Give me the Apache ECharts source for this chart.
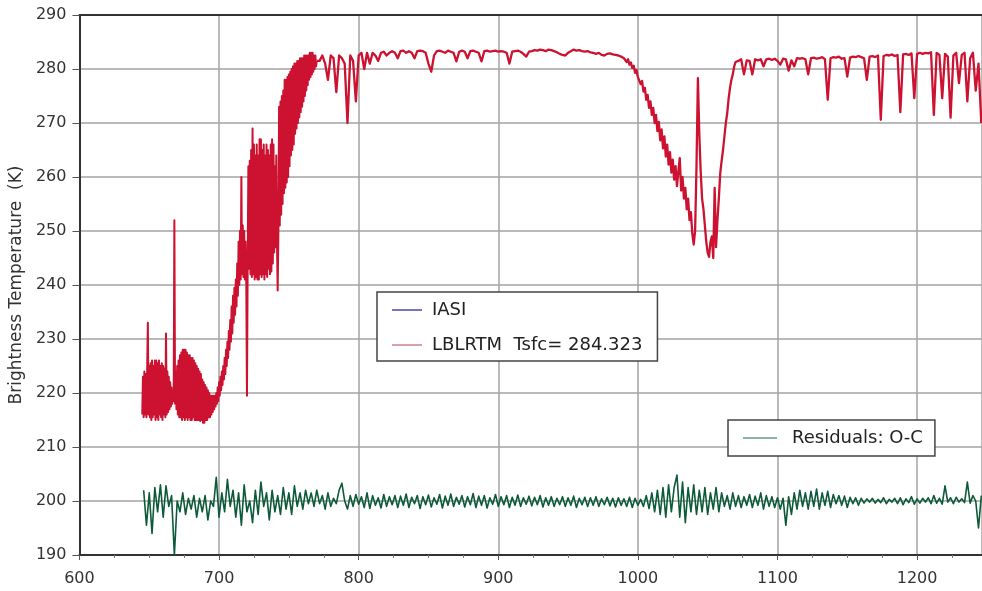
<!DOCTYPE html>
<html>
<head>
<meta charset="utf-8">
<script src="https://cdn.jsdelivr.net/npm/echarts@6/dist/echarts.min.js"></script>
<style>html,body{margin:0;padding:0;background:#fff;}#c{width:982px;height:591px;}</style>
</head>
<body>
<div id="c"></div>
<script>
// ---- data ----
const xTicks = [600, 700, 800, 900, 1000, 1100, 1200];
const yTicks = [190, 200, 210, 220, 230, 240, 250, 260, 270, 280, 290];

const lblrtmWn = [
645,645.5,646,646.5,647,647.5,648,648.5,649,649.5, 650,650.5,651,651.5,652,652.5,653,653.5,654,654.5,
655,655.5,656,656.5,657,657.5,658,658.5,659,659.5, 660,660.5,661,661.5,662,662.5,663,663.5,664,664.5,
665,665.5,666,666.5,667,667.5,668,668.5,669,669.5, 670,670.5,671,671.5,672,672.5,673,673.5,674,674.5,
675,675.5,676,676.5,677,677.5,678,678.5,679,679.5, 680,680.5,681,681.5,682,682.5,683,683.5,684,684.5,
685,685.5,686,686.5,687,687.5,688,688.5,689,689.5, 690,690.5,691,691.5,692,692.5,693,693.5,694,694.5,
695,695.5,696,696.5,697,697.5,698,698.5,699,699.5, 700,700.5,701,701.5,702,702.5,703,703.5,704,704.5,
705,705.5,706,706.5,707,707.5,708,708.5,709,709.5, 710,710.5,711,711.5,712,712.5,713,713.5,714,714.5,
715,715.5,716,716.5,717,717.5,718,718.5,719,719.5, 720,720.5,721,721.5,722,722.5,723,723.5,724,724.5,
725,725.5,726,726.5,727,727.5,728,728.5,729,729.5, 730,730.5,731,731.5,732,732.5,733,733.5,734,734.5,
735,735.5,736,736.5,737,737.5,738,738.5,739,739.5, 740,740.5,741,741.5,742,742.5,743,743.5,744,744.5,
745,745.5,746,746.5,747,747.5,748,748.5,749,749.5, 750,750.5,751,751.5,752,752.5,753,753.5,754,754.5,
755,755.5,756,756.5,757,757.5,758,758.5,759,759.5, 760,760.5,761,761.5,762,762.5,763,763.5,764,764.5,
765,765.5,766,766.5,767,767.5,768,768.5,769,769.5, 770,
772,774,776,778,780,782,784,786,788,790,792,794,796,798,800,802,804,806,808,810,
812,814,816,818,820,822,824,826,828,830,832,834,836,838,840,842,844,846,848,850,
852,854,856,858,860,862,864,866,868,870,872,874,876,878,880,882,884,886,888,890,
892,894,896,898,900,902,904,906,908,910,912,914,916,918,920,922,924,926,928,930,
932,934,936,938,940,942,944,946,948,950,952,954,956,958,960,962,964,966,968,970,
972,974,976,978,980,982,984,986,988,990,
991,992,993,994,995,996,997,998,999,1000,1001,1002,1003,1004,1005,1006,1007,1008,1009,1010,
1011,1012,1013,1014,1015,1016,1017,1018,1019,1020,1021,1022,1023,1024,1025,1026,1027,1028,1029,1030,
1031,1032,1033,1034,1035,1036,1037,1038,1039,1040,1041,1042,1043,1044,1045,1046,1047,1048,1049,1050,
1051,1052,1053,1054,1055,1056,1057,1058,1059,1060,1061,1062,1063,1064,1065,1066,1067,1068,1069,1070,
1072,1074,1076,1078,1080,1082,1084,1086,1088,1090,1092,1094,1096,1098,1100,1102,1104,1106,1108,1110,
1112,1114,1116,1118,1120,1122,1124,1126,1128,1130,1132,1134,1136,1138,1140,1142,1144,1146,1148,1150,
1152,1154,1156,1158,1160,1162,1164,1166,1168,1170,1172,1174,1176,1178,1180,1182,1184,1186,1188,1190,
1192,1194,1196,1198,1200,1202,1204,1206,1208,1210,1212,1214,1216,1218,1220,1222,1224,1226,1228,1230,
1232,1234,1236,1238,1240,1242,1244,1246
];

const lblrtmBT = [
216,223,215.5,224,216,223.5,215.5,224,233,216, 225,215.5,225.5,215,226,215.5,225,216,226,215,
226,215.5,225.5,215,226,216,225,215.5,225.5,215, 225,216,224.5,215.5,231,216,224,216.5,223,217,
222,217.5,221,218,220,218.5,252,218,224,217, 225,216,226,215.5,227,215.5,227.5,215,228,215.5,
228,215,228,215.5,227.5,215,227,215.5,227,215, 226.5,215,226.5,215.5,226,215,225.5,215,225,215,
224.5,215,224,214.8,223.5,215,222.5,214.5,222,214.5, 221.5,215,221,215,220.5,215.5,220,215.5,219.5,216,
219.5,216.5,219.5,217,219.5,217.5,220,218,221,218.5, 222,219.5,223,220.5,224,221.5,225,222.5,226.5,223.5,
228,225,229.5,226.5,231.5,228,233.5,229.5,236,231, 238,233,239.5,234.5,241,236,244,238,248,240,
250,241,260,242,251,241.5,250,241,248,241, 219.5,244,262,243,263,242,265,241.5,269,242,
266,241,264,241.5,266,241,264,241,267,242, 267,241.5,265,242,266,241,264,242,266,241.5,
265,243,264,242,266,242.5,267,244,266,246, 262,247,264,248,239,250,273,251,274,253,
275,255,276,257,278,258,278,259,278.5,260, 279,262,279.5,264,280,265,280.5,266,281,268,
281,269,281.5,270,281.5,271,282,272,282,273, 282,274,282.5,275,282.5,276,282.5,277,282.5,278,
283,278.5,283,279,283,279.5,282.5,280,282.5,280.5, 281.5,
281.5,282.5,281,278,282.5,282,275.7,282.5,282,281,270,282.5,281.5,274,282.5,283,280,283,281,283,
282.5,281.5,283,283.2,282.5,283,283.3,283,282,283.3,283.4,283,283.3,283,282,283.3,283.4,283.3,283,281,
279.5,282.5,283.3,283.4,283.2,283,283.4,283.2,283,281.4,283.2,283.4,283.2,282,283.3,283.4,283.2,283,281.4,283.3,
283.4,283.2,283.3,283.4,283.2,283.3,283.2,283,281,283.2,283.3,283.4,283.2,282.8,282.3,283.2,283.3,283.5,283.4,283.6,
283.5,283.3,283.6,283.5,283.3,283.1,282.8,282.6,282.5,283,283.3,283.6,283.4,283.5,283.3,283.2,283.3,283.1,283,282.8,
283,282.6,282.5,282.8,282.9,282.7,282.6,282.5,282.3,282,
282,281.3,281.8,280.8,281.2,280.2,280.6,279.3,279.8,278.5,278.8,277.2,277.8,275.8,276.5,274.3,275.2,272.8,274,271.5,
272.8,270,271.5,268.5,270.2,266.8,268.8,265.3,267.5,263.8,266,262.3,264.6,260.8,263.2,259.5,262,258.3,261,263.5,
257.5,260,256,258,254,256,252,253.5,249.5,247.5,250,262,278.3,268,261,256,254,251,248,246,
245.2,248,249,245,258,247,252,256,260.7,263,265,267.5,270,271.8,274.5,276.5,278,279,280.5,281.3,
281.5,281.8,279,281.6,281.5,279,281.8,281.6,281.8,280.5,281.8,281.9,281.7,281.9,281.5,280.8,281.9,281.8,279.7,281.6,
280.5,282,281.9,282,281.8,279,282,282.1,281.9,282,282.2,281.8,274.3,282,282.2,282.1,282.3,281.9,282,278.6,
282.1,282.3,282.2,282.4,282.2,282,278,282.3,282.4,282.2,282.5,270.6,282.4,282.6,282.5,282.7,282.4,282.6,272,282.7,
282.8,282.6,282.9,274.6,282.8,283,282.8,283,282.9,283.1,271.5,283,282.6,274.6,282.8,282.3,271,282.5,283,277.4,
282.6,283,274,282,283,276,281,270
];

const residualWn = [
646,648,650,652,654,656,658,660,662,664,666,668,670,672,674,676,678,680,682,684,
686,688,690,692,694,696,698,700,702,704,706,708,710,712,714,716,718,720,722,724,
726,728,730,732,734,736,738,740,742,744,746,748,750,752,754,756,758,760,762,764,
766,768,770,772,774,776,778,780,782,784,786,788,790,792,794,796,798,800,802,804,
806,808,810,812,814,816,818,820,822,824,826,828,830,832,834,836,838,840,842,844,
846,848,850,852,854,856,858,860,862,864,866,868,870,872,874,876,878,880,882,884,
886,888,890,892,894,896,898,900,902,904,906,908,910,912,914,916,918,920,922,924,
926,928,930,932,934,936,938,940,942,944,946,948,950,952,954,956,958,960,962,964,
966,968,970,972,974,976,978,980,982,984,986,988,990,992,994,996,998,1000,1002,1004,
1006,1008,1010,1012,1014,1016,1018,1020,1022,1024,1026,1028,1030,1032,1034,1036,1038,1040,1042,1044,
1046,1048,1050,1052,1054,1056,1058,1060,1062,1064,1066,1068,1070,1072,1074,1076,1078,1080,1082,1084,
1086,1088,1090,1092,1094,1096,1098,1100,1102,1104,1106,1108,1110,1112,1114,1116,1118,1120,1122,1124,
1126,1128,1130,1132,1134,1136,1138,1140,1142,1144,1146,1148,1150,1152,1154,1156,1158,1160,1162,1164,
1166,1168,1170,1172,1174,1176,1178,1180,1182,1184,1186,1188,1190,1192,1194,1196,1198,1200,1202,1204,
1206,1208,1210,1212,1214,1216,1218,1220,1222,1224,1226,1228,1230,1232,1234,1236,1238,1240,1242,1244,
1246
];

const residualBT = [
202,195.5,201.5,194,202.5,198,203,197,202.8,199, 201,190,200,198,201.5,197.5,200.5,198.5,201,197,
200.5,198,201,196.5,200,199,204.4,197,201.5,198, 204,199,202,197,201.5,195.5,203,198,200,196,
202,197.5,203.5,199,201.5,196.5,202,198,201,197.5, 202.5,198.5,201.5,197.5,202.8,199,201.5,198.5,202,199.5,
201.5,199,202,199.5,201,198.5,201.5,199,200.5,199.5, 202,203.3,200,198.5,201,199,201.2,199.4,200.8,198.8,
201.5,198.6,201,199.2,200.6,198.7,201.2,199,200.8,199.3, 201,198.8,200.9,199.2,201.3,198.8,200.7,199.5,201,198.6,
200.8,199.3,201.1,198.9,200.6,199.4,201.2,198.7,200.9,199.2, 201.3,199,200.7,199.4,201,198.9,200.8,199.3,201.4,198.8,
200.9,199.2,201,198.7,200.6,199.4,201.2,199,200.8,199.3, 201,198.8,200.7,199.2,201.1,199,200.6,199.4,200.9,199.1,
200.7,199.3,201,198.9,200.6,199.2,200.8,199,200.5,199.3, 200.8,199,200.6,199.2,200.9,198.8,200.5,199.3,200.7,199,
200.6,199.2,200.8,199,200.4,199.3,200.7,199.1,200.5,198.9, 200.6,199.2,200.4,199,200.7,198.8,200.5,199.2,200.3,199,
201,198.6,201.5,198,202,197.5,202.5,197,203,198, 202.5,204.8,197,203.5,196,202.5,198,203,197.5,202,
198,202.5,197.5,201.5,198.5,202.5,198,201.5,199,201, 198.5,201.5,199,201,198.8,200.8,199.2,201.2,198.8,200.9,
199.2,201.5,198.5,201,199,200.8,198.8,200.6,198.5,200.5, 195.5,200.8,197.5,201.5,198.5,202,199,201.5,198.5,201.8,
199,202.2,198.5,201.5,199.2,201.8,198.8,201.2,199.5,201, 199.2,200.9,198.8,200.7,199.5,200.6,199.2,200.5,199.6,200.4,
199.8,200.5,199.6,200.3,199.7,200.6,199.5,200.3,199.8,200.5, 199.5,200.6,199.3,200.4,199.7,200.8,199.4,200.4,199.6,200.5,
199.8,200.6,199.5,201,199.6,200.5,199.4,202.8,199.8,200.6, 199.5,200.7,199.8,200.4,199.7,203.5,199.6,201,200,195,
201
];

const seriesNames = ['IASI', 'LBLRTM  Tsfc= 284.323', 'Residuals: O-C'];
const yAxisTitle = 'Brightness Temperature  (K)';

// ---- build chart ----
const zip = (a, b) => a.map((v, i) => [v, b[i]]);
const lblrtmPts = zip(lblrtmWn, lblrtmBT);
const bandEnd = lblrtmWn.indexOf(770);           // dense CO2-band part drawn with a wider stroke
const FONT = 'DejaVu Sans';
const RED = '#cc1230';
const chart = echarts.init(document.getElementById('c'), null, { renderer: 'canvas' });

chart.setOption({
  animation: false,
  backgroundColor: '#ffffff',
  textStyle: { fontFamily: FONT },
  grid: { left: 77, top: 15, right: 0, bottom: 36, containLabel: false },
  xAxis: [{
    type: 'value', min: xTicks[0], max: 1246.5, interval: 100,
    axisLine: { show: true, onZero: false, lineStyle: { color: '#333', width: 2 } },
    axisTick: { show: true, length: 5, lineStyle: { color: '#555', width: 1 } },
    minorTick: { show: true, splitNumber: 4, length: 3, lineStyle: { color: '#777' } },
    axisLabel: { color: '#333', fontSize: 16, fontFamily: FONT, margin: 16, showMaxLabel: false,
      formatter: v => (xTicks.indexOf(v) >= 0 ? String(v) : '') },
    splitLine: { show: true, lineStyle: { color: '#a3a3a3', width: 1.5 } }
  }, {
    type: 'value', position: 'top', min: xTicks[0], max: 1246.5,
    axisLine: { show: true, onZero: false, lineStyle: { color: '#333', width: 2 } },
    axisTick: { show: false }, axisLabel: { show: false }, splitLine: { show: false }
  }],
  yAxis: {
    type: 'value', min: yTicks[0], max: yTicks[yTicks.length - 1], interval: 10,
    name: yAxisTitle, nameLocation: 'middle', nameGap: 50,
    nameTextStyle: { color: '#333', fontSize: 17, fontFamily: FONT },
    axisLine: { show: true, onZero: false, lineStyle: { color: '#333', width: 2 } },
    axisTick: { show: true, length: 7, lineStyle: { color: '#555', width: 1 } },
    axisLabel: { color: '#333', fontSize: 16, fontFamily: FONT, margin: 13 },
    splitLine: { show: true, lineStyle: { color: '#a3a3a3', width: 1.5 } }
  },
  legend: [{
    data: [
      { name: seriesNames[0], lineStyle: { color: '#6f6fb0', width: 1.5 } },
      { name: seriesNames[1], lineStyle: { color: '#d8607a', width: 1.5 } }
    ],
    orient: 'vertical', left: 377, top: 292,
    itemWidth: 30, itemHeight: 20, itemGap: 17,
    padding: [9, 15, 7, 15],
    borderColor: '#444', borderWidth: 1.5, backgroundColor: '#fff',
    textStyle: { color: '#222', fontSize: 18, fontFamily: FONT, padding: [0, 0, 0, 5] },
    icon: 'path://M0,0 L30,0 L30,1.5 L0,1.5 Z'
  }, {
    data: [{ name: seriesNames[2] }],
    orient: 'vertical', left: 728, top: 420,
    itemWidth: 34, itemHeight: 20,
    padding: [9, 12, 9, 15],
    borderColor: '#444', borderWidth: 1.5, backgroundColor: '#fff',
    textStyle: { color: '#222', fontSize: 18, fontFamily: FONT, padding: [0, 0, 0, 10] },
    icon: 'path://M0,0 L30,0 L30,1.5 L0,1.5 Z'
  }],
  series: [{
    name: seriesNames[0], type: 'line', data: [], showSymbol: false,
    itemStyle: { color: '#4a4aa0' }, lineStyle: { color: '#4a4aa0', width: 1.2 }
  }, {
    name: seriesNames[1], type: 'line', data: lblrtmPts.slice(0, bandEnd + 1),
    showSymbol: false, symbol: 'none', sampling: null,
    itemStyle: { color: '#d08090' }, lineStyle: { color: RED, width: 2, join: 'round' }
  }, {
    name: seriesNames[1], type: 'line', data: lblrtmPts.slice(bandEnd),
    showSymbol: false, symbol: 'none', sampling: null,
    itemStyle: { color: '#d08090' }, lineStyle: { color: RED, width: 2.3, join: 'round' }
  }, {
    name: seriesNames[2], type: 'line', data: zip(residualWn, residualBT),
    showSymbol: false, symbol: 'none',
    itemStyle: { color: '#6a9a88' }, lineStyle: { color: '#0c5a3a', width: 1.6, join: 'round' }
  }]
});
</script>
</body>
</html>
